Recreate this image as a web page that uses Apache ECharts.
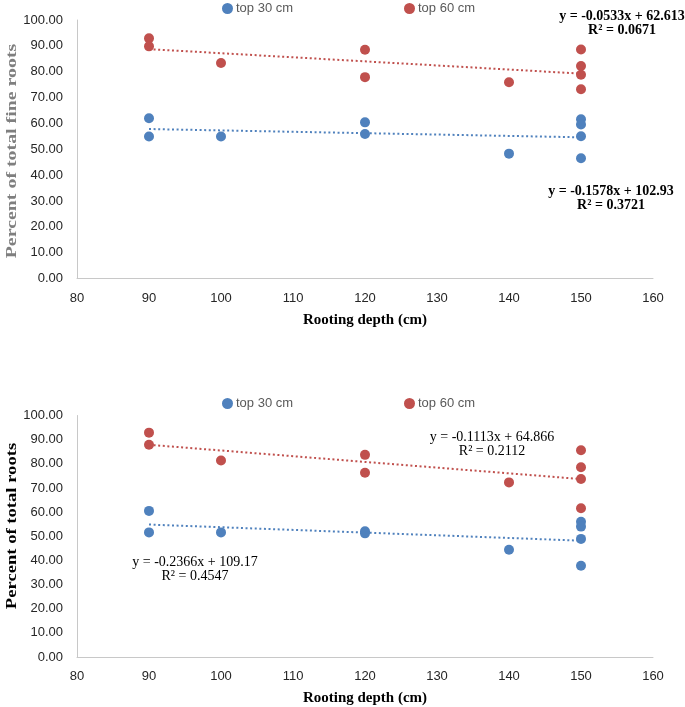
<!DOCTYPE html>
<html>
<head>
<meta charset="utf-8">
<script src="https://cdn.jsdelivr.net/npm/echarts@6/dist/echarts.min.js"></script>
<style>
html,body{margin:0;padding:0;background:#fff;}
#chart{width:685px;height:707px;}
</style>
</head>
<body>
<div id="chart"></div>
<script>
// ---- data ----
const seriesNames = ['top 30 cm', 'top 60 cm'];
const depthTop30 = [90, 90, 100, 120, 120, 140, 150, 150, 150, 150];
const fineTop30  = [62.0, 54.9, 54.9, 60.4, 55.9, 48.3, 61.6, 59.6, 55.0, 46.5];
const depthTop60 = [90, 90, 100, 120, 120, 140, 150, 150, 150, 150];
const fineTop60  = [92.9, 89.8, 83.4, 88.5, 77.9, 75.9, 88.6, 82.2, 78.8, 73.2];

const depthBot30 = [90, 90, 100, 120, 120, 140, 150, 150, 150, 150];
const totalTop30 = [60.5, 51.6, 51.6, 52.1, 51.2, 44.4, 56.0, 54.0, 48.9, 37.8];
const depthBot60 = [90, 90, 100, 120, 120, 140, 150, 150, 150, 150];
const totalTop60 = [92.9, 87.9, 81.4, 83.7, 76.3, 72.3, 85.6, 78.6, 73.7, 61.6];

// trend line end points (x = 90 and x = 150)
const trendX = [90, 150];
const trendFine30 = [57.82, 54.62];
const trendFine60 = [88.73, 79.26];
const trendTotal30 = [54.85, 48.17];
const trendTotal60 = [87.88, 73.68];

const eqFine = ['y = -0.0533x + 62.613', 'R² = 0.0671', 'y = -0.1578x + 102.93', 'R² = 0.3721'];
const eqTotal = ['y = -0.1113x + 64.866', 'R² = 0.2112', 'y = -0.2366x + 109.17', 'R² = 0.4547'];

const yTitles = ['Percent of total fine roots', 'Percent of total roots'];
const xTitle = 'Rooting depth (cm)';

// ---- build ----
const BLUE = '#4f81bd', RED = '#c0504d';
const zip = (a, b) => a.map((v, i) => [v, b[i]]);
const labelFont = '"Liberation Sans", Arial, sans-serif';
const serif = '"Liberation Serif", "Times New Roman", serif';

function xAxis(gi) {
  return {
    type: 'value', gridIndex: gi, min: 80, max: 160, interval: 10,
    axisLine: {show: true, lineStyle: {color: '#c8c8c8', width: 1}},
    axisTick: {show: false}, splitLine: {show: false},
    axisLabel: {color: '#262626', fontFamily: labelFont, fontSize: 13, margin: 13},
    name: xTitle, nameLocation: 'middle', nameGap: 34,
    nameTextStyle: {fontFamily: serif, fontWeight: 'bold', fontSize: 15, color: '#000'}
  };
}
function yAxis(gi) {
  return {
    type: 'value', gridIndex: gi, min: 0, max: 100, interval: 10,
    axisLine: {show: true, lineStyle: {color: '#c8c8c8', width: 1}},
    axisTick: {show: false}, splitLine: {show: false},
    axisLabel: {color: '#262626', fontFamily: labelFont, fontSize: 13, margin: 14,
      formatter: v => v.toFixed(2)}
  };
}
function scatter(name, gi, xs, ys, color) {
  return {
    type: 'scatter', name: name, xAxisIndex: gi, yAxisIndex: gi,
    data: zip(xs, ys), symbol: 'circle', symbolSize: 10,
    itemStyle: {color: color, opacity: 1}, z: 2
  };
}
function trend(name, gi, ys, color) {
  return {
    type: 'line', name: name, xAxisIndex: gi, yAxisIndex: gi,
    data: zip(trendX, ys), symbol: 'none', silent: true,
    lineStyle: {color: color, width: 2, type: [2, 2.6]}, z: 3
  };
}
function legend(name, left, top) {
  return {
    data: [name], left: left, top: top, icon: 'circle', itemWidth: 11, itemHeight: 11,
    itemGap: 0, padding: 0,
    textStyle: {color: '#595959', fontFamily: labelFont, fontSize: 13, padding: [0, 0, 0, -2]}
  };
}
function eqText(lines, cx, y, bold) {
  return {
    type: 'text', x: cx, y: y,
    style: {
      text: lines.join('\n'), x: 0, y: 0, align: 'center', verticalAlign: 'middle',
      font: (bold ? 'bold ' : '') + '14px ' + serif, fill: '#000', lineHeight: 14
    }
  };
}
function yTitle(text, cy, color, stretch) {
  return {
    type: 'text', x: 12, y: cy, rotation: Math.PI / 2, scaleX: stretch,
    style: {
      text: text, x: 0, y: 0, align: 'center', verticalAlign: 'middle',
      font: 'bold 14px ' + serif, fill: color
    }
  };
}

const option = {
  backgroundColor: '#fff',
  animation: false,
  grid: [
    {left: 77, width: 576, top: 20, height: 258.5, outerBoundsMode: 'none', containLabel: false},
    {left: 77, width: 576, top: 415.5, height: 241.5, outerBoundsMode: 'none', containLabel: false}
  ],
  xAxis: [xAxis(0), xAxis(1)],
  yAxis: [yAxis(0), yAxis(1)],
  legend: [
    legend(seriesNames[0], 222, 2), legend(seriesNames[1], 404, 2),
    legend(seriesNames[0], 222, 397), legend(seriesNames[1], 404, 397)
  ],
  series: [
    scatter(seriesNames[0], 0, depthTop30, fineTop30, BLUE),
    scatter(seriesNames[1], 0, depthTop60, fineTop60, RED),
    trend(seriesNames[0], 0, trendFine30, BLUE),
    trend(seriesNames[1], 0, trendFine60, RED),
    scatter(seriesNames[0], 1, depthBot30, totalTop30, BLUE),
    scatter(seriesNames[1], 1, depthBot60, totalTop60, RED),
    trend(seriesNames[0], 1, trendTotal30, BLUE),
    trend(seriesNames[1], 1, trendTotal60, RED)
  ],
  graphic: [
    eqText(eqFine.slice(0, 2), 622, 23, true),
    eqText(eqFine.slice(2, 4), 611, 198, true),
    eqText(eqTotal.slice(0, 2), 492, 444, false),
    eqText(eqTotal.slice(2, 4), 195, 569, false),
    yTitle(yTitles[0], 151, '#7f7f7f', 1.42),
    yTitle(yTitles[1], 526, '#000', 1.33)
  ]
};

const chart = echarts.init(document.getElementById('chart'), null, {renderer: 'canvas'});
chart.setOption(option);
</script>
</body>
</html>
